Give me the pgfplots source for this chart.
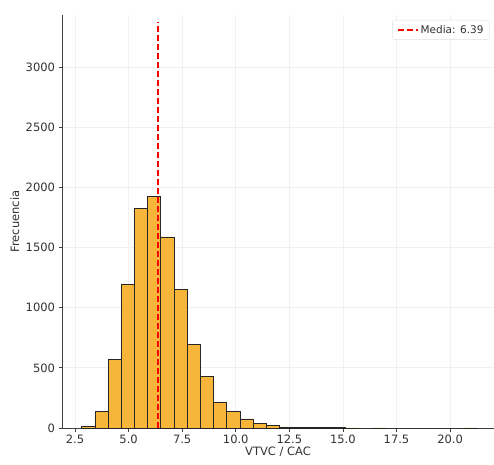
\documentclass[border=0pt]{standalone}
\usepackage{pgfplots}
\pgfplotsset{compat=1.18}
\usepackage{fontspec}
\setmainfont{DejaVu Sans}
\definecolor{barorange}{RGB}{247,182,58}
\definecolor{txt}{RGB}{50,50,50}
\begin{document}
\begin{tikzpicture}
\begin{axis}[
  scale only axis,
  width=432pt, height=413pt,
  xmin=1.893, xmax=22.05,
  ymin=0, ymax=3435,
  axis x line*=bottom, axis y line*=left,
  axis line style={black!75, line width=0.8pt},
  xtick={2.5,5,7.5,10,12.5,15,17.5,20},
  ytick={0,500,1000,1500,2000,2500,3000},
  xticklabels={2.5,5.0,7.5,10.0,12.5,15.0,17.5,20.0},
  tick align=outside,
  major tick length=3.5pt,
  tick style={black!75, line width=0.8pt},
  grid=major,
  major grid style={gray!12, line width=0.8pt},
  /pgf/number format/assume math mode=true,
  /pgf/number format/1000 sep={},
  ticklabel style={font=\fontsize{11.5}{13}\selectfont, text=txt},
  xlabel={VTVC / CAC}, ylabel={Frecuencia},
  label style={font=\fontsize{11.5}{13}\selectfont, text=txt},
  xlabel style={at={(axis description cs:0.5,-0.058)}, anchor=center},
  ylabel style={at={(axis description cs:-0.109,0.5)}, anchor=center},
  legend style={at={(axis description cs:0.99,0.988)}, anchor=north east,
    font=\fontsize{10.5}{12}\selectfont, text=txt, draw=gray!25, rounded corners=2pt,
    inner xsep=4pt, inner ysep=3pt},
  legend image code/.code={\draw[#1] (0pt,0pt) -- (20pt,0pt);},
  legend cell align=left,
]
\addplot[ybar interval, fill=barorange, draw=black!85, line width=0.6pt, forget plot] table[x=x, y=y] {
x y
2.810 15
3.425 135
4.040 571
4.655 1197
5.270 1826
5.885 1928
6.500 1590
7.115 1153
7.730 698
8.345 427
8.960 213
9.575 136
10.190 75
10.805 39
11.420 25
12.035 10
12.650 5
13.265 3
13.880 2
14.495 2
15.110 1
15.725 0
16.340 1
16.955 0
17.570 0
18.185 0
18.800 0
19.415 0
20.030 0
20.645 1
21.260 1
};
\addplot[red, line width=2pt, dash pattern=on 6pt off 3pt] coordinates {(6.39,0) (6.39,3380)};
\addlegendentry{Media: 6.39}
\end{axis}
\pgfresetboundingbox
\path[use as bounding box] ([shift={(-62pt,-36pt)}]current axis.south west) rectangle ([shift={(0pt,15pt)}]current axis.north east);
\end{tikzpicture}
\end{document}
